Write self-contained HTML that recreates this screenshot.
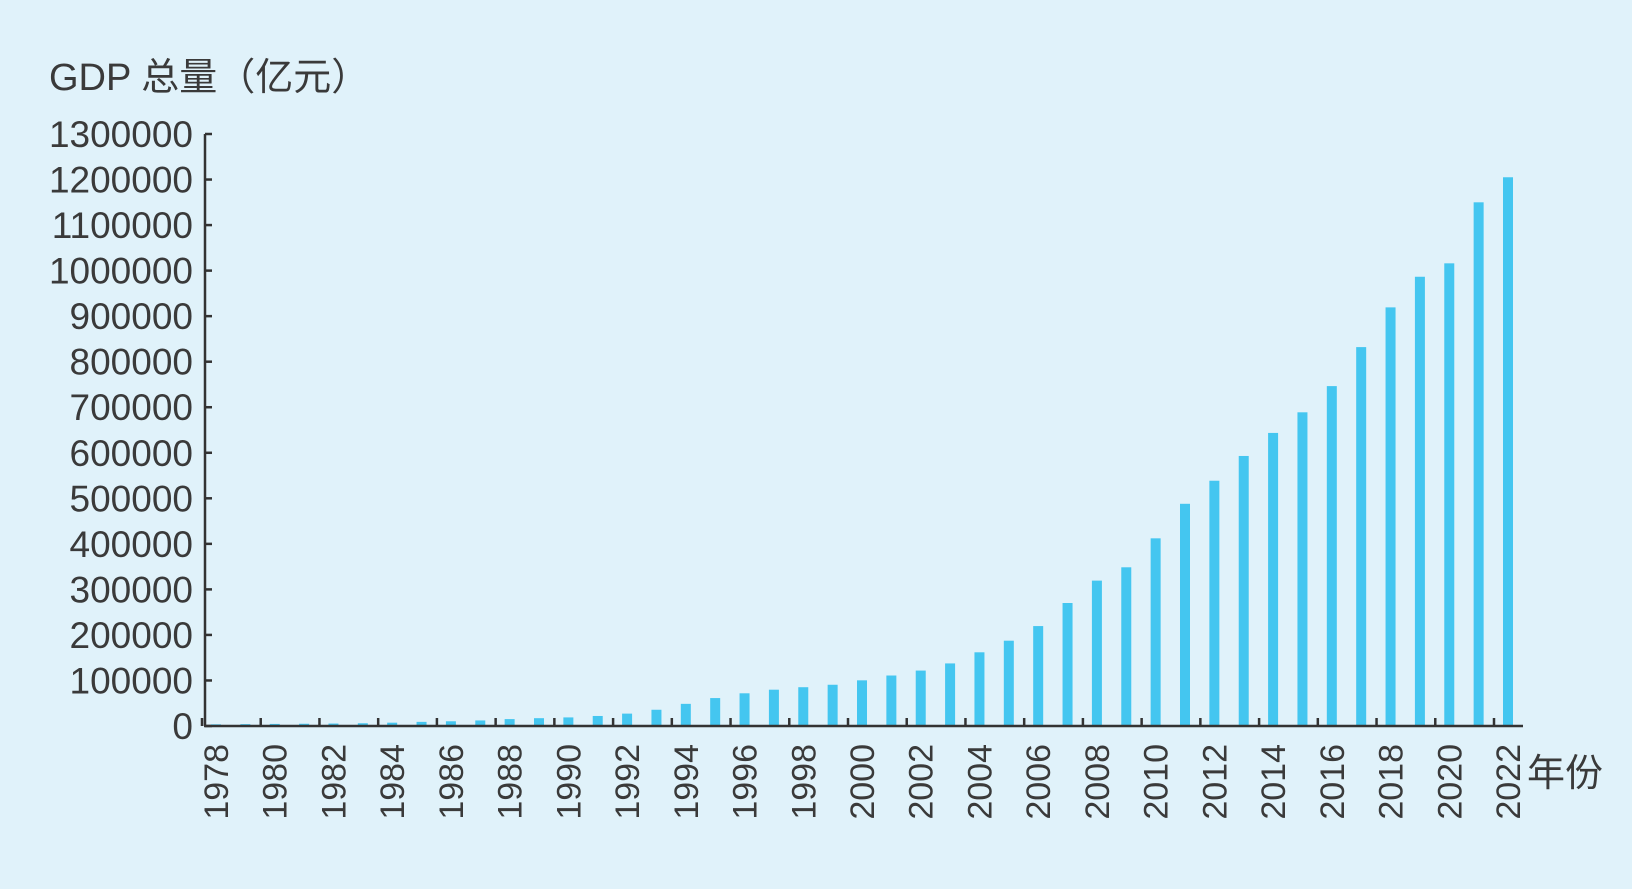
<!DOCTYPE html>
<html><head><meta charset="utf-8"><style>
html,body{margin:0;padding:0;background:#fff;}
svg{display:block;}
text{font-family:"Liberation Sans","Noto Sans CJK SC",sans-serif;fill:#3a3a3a;}
</style></head><body>
<svg id="chart" width="1635" height="894">
<rect x="0" y="0" width="1632" height="889" fill="#e0f2fa"/>
<text x="49" y="90" font-size="38">GDP 总量（亿元）</text>
<text x="1527" y="786" font-size="38">年份</text>
<g id="yticks"></g><g id="bars"></g><g id="xticks"></g>
<line x1="205" y1="134" x2="205" y2="726" stroke="#333" stroke-width="2.5"/>
<line x1="204" y1="726" x2="1523" y2="726" stroke="#333" stroke-width="2.5"/>
</svg>
<script>
const years = [1978,1979,1980,1981,1982,1983,1984,1985,1986,1987,1988,1989,1990,1991,1992,1993,1994,1995,1996,1997,1998,1999,2000,2001,2002,2003,2004,2005,2006,2007,2008,2009,2010,2011,2012,2013,2014,2015,2016,2017,2018,2019,2020,2021,2022];
const gdp = [3679,4101,4588,4936,5373,6021,7279,9099,10376,12175,15180,17180,18873,22006,27195,35673,48638,61340,71814,79715,85196,90564,100280,110863,121717,137422,161840,187319,219439,270092,319245,348518,412119,487940,538580,592963,643563,688858,746395,832036,919281,986515,1015986,1150000,1205000];
const yTicks = [0,100000,200000,300000,400000,500000,600000,700000,800000,900000,1000000,1100000,1200000,1300000];
const xLabelYears = [1978,1980,1982,1984,1986,1988,1990,1992,1994,1996,1998,2000,2002,2004,2006,2008,2010,2012,2014,2016,2018,2020,2022];
const NS='http://www.w3.org/2000/svg';
const y0=726, yTop=134, yMax=1300000;
const yScale=v=>y0-(v/yMax)*(y0-yTop);
const x0=216, x1=1508;
const xScale=yr=>x0+(yr-years[0])*(x1-x0)/(years[years.length-1]-years[0]);
const gy=document.getElementById('yticks'), gb=document.getElementById('bars'), gx=document.getElementById('xticks');
yTicks.forEach(t=>{
  const y=yScale(t);
  const ln=document.createElementNS(NS,'line');
  ln.setAttribute('x1',205);ln.setAttribute('x2',212);ln.setAttribute('y1',y);ln.setAttribute('y2',y);
  ln.setAttribute('stroke','#333');ln.setAttribute('stroke-width','2.5');
  
  
  gy.appendChild(ln);
  const tx=document.createElementNS(NS,'text');
  tx.setAttribute('x',193);tx.setAttribute('y',y+13);tx.setAttribute('font-size','37');
  tx.setAttribute('text-anchor','end');
  tx.textContent=String(t);
  
  
  gy.appendChild(tx);
});
years.forEach((yr,i)=>{
  const cx=xScale(yr), y=yScale(gdp[i]);
  const r=document.createElementNS(NS,'rect');
  r.setAttribute('x',cx-5);r.setAttribute('width',10);
  r.setAttribute('y',y);r.setAttribute('height',y0-y);
  r.setAttribute('fill','#44c6f0');
  
  
  gb.appendChild(r);
});
xLabelYears.forEach(yr=>{
  const cx=xScale(yr);
  const ln=document.createElementNS(NS,'line');
  ln.setAttribute('x1',cx-14);ln.setAttribute('x2',cx-14);ln.setAttribute('y1',718);ln.setAttribute('y2',726);
  ln.setAttribute('stroke','#333');ln.setAttribute('stroke-width','2.5');
  
  
  gx.appendChild(ln);
  const tx=document.createElementNS(NS,'text');
  tx.setAttribute('transform','translate('+(cx+12)+',744) rotate(-90)');
  tx.setAttribute('font-size','34');tx.setAttribute('text-anchor','end');
  tx.textContent=String(yr);
  
  
  gx.appendChild(tx);
});
</script>
</body></html>
